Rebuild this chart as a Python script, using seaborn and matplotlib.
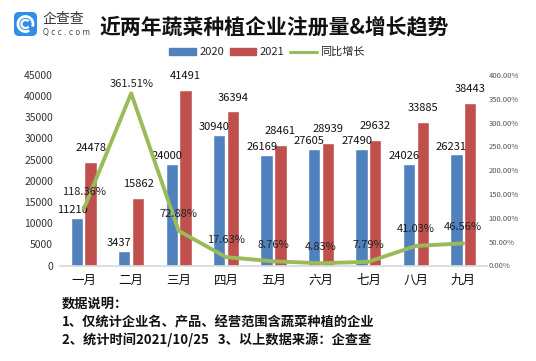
import numpy as np
import pandas as pd
import seaborn as sns
import matplotlib.pyplot as plt
from matplotlib.patches import Patch, FancyBboxPatch, Arc
from matplotlib.lines import Line2D
from matplotlib.ticker import FuncFormatter

# data
months = ["一月", "二月", "三月", "四月", "五月", "六月", "七月", "八月", "九月"]
reg_2020 = [11210, 3437, 24000, 30940, 26169, 27605, 27490, 24026, 26231]
reg_2021 = [24478, 15862, 41491, 36394, 28461, 28939, 29632, 33885, 38443]
growth = [118.36, 361.51, 72.88, 17.63, 8.76, 4.83, 7.79, 41.03, 46.56]

blue = "#4F81BD"
red = "#C0504D"
green = "#9BBB59"

sns.set_theme(style="white")
plt.rcParams["font.family"] = ["Noto Sans CJK SC", "DejaVu Sans"]

df = pd.DataFrame({
    "month": months * 2,
    "year": ["2020"] * len(months) + ["2021"] * len(months),
    "count": reg_2020 + reg_2021,
})

fig = plt.figure(figsize=(5.36, 3.61), dpi=100)
ax = fig.add_axes([60 / 536, 1 - 265.5 / 361, 427 / 536, 190.5 / 361])

sns.barplot(data=df, x="month", y="count", hue="year", hue_order=["2020", "2021"],
            palette=[blue, red], width=0.58, gap=0.1, saturation=1,
            legend=False, ax=ax)
ax.set_xlim(-0.5, len(months) - 0.5)
ax.set_ylim(0, 45000)
ax.set_yticks(np.arange(0, 45001, 5000))
ax.set_xlabel("")
ax.set_ylabel("")
for s in ["top", "left", "right"]:
    ax.spines[s].set_visible(False)
ax.spines["bottom"].set_color("#D9D9D9")
ax.tick_params(axis="x", length=0, pad=6, labelsize=9, colors="#111111")
ax.tick_params(axis="y", length=0, pad=5, labelsize=7.5, colors="#333333")

# bar value labels (2020 sits lower and a bit left, like the original)
for cont, (dx, dy) in zip(ax.containers, [(-3.5, 5.5), (0, 10)]):
    for bar in cont:
        h = bar.get_height()
        ax.annotate(f"{int(h)}", (bar.get_x() + bar.get_width() / 2, h),
                    xytext=(dx, dy), textcoords="offset points",
                    ha="center", va="center", fontsize=8, color="#111111")

# growth line on the secondary axis
ax2 = ax.twinx()
sns.lineplot(x=np.arange(len(months)), y=growth, color=green, linewidth=2.8, ax=ax2)
ax2.set_ylim(0, 400)
ax2.set_yticks(np.arange(0, 401, 50))
ax2.yaxis.set_major_formatter(FuncFormatter(lambda v, p: f"{v:.2f}%"))
for s in ["top", "left", "right", "bottom"]:
    ax2.spines[s].set_visible(False)
ax2.tick_params(axis="y", length=0, pad=1, labelsize=5.5, colors="#555555")
ax2.set_xlim(-0.5, len(months) - 0.5)

for i, g in enumerate(growth):
    dy = 6.5 if g > 300 else 12
    ax2.annotate(f"{g:.2f}%", (i, g), xytext=(0, dy), textcoords="offset points",
                 ha="center", va="center", fontsize=8, color="#222222")

# legend
handles = [Patch(color=blue, label="2020"), Patch(color=red, label="2021"),
           Line2D([], [], color=green, linewidth=2.2, label="同比增长")]
fig.legend(handles=handles, loc="center", bbox_to_anchor=(0.498, 1 - 52 / 361), ncol=3,
           frameon=False, fontsize=8, handlelength=2.4, handleheight=0.55,
           columnspacing=0.5, handletextpad=0.3)

# title
fig.text(0.511, 1 - 27 / 361, "近两年蔬菜种植企业注册量&增长趋势", ha="center", va="center",
         fontsize=15, fontweight="bold", color="#111111")

# logo
lax = fig.add_axes([14 / 536, 1 - 36 / 361, 23 / 536, 24 / 361])
lax.set_xlim(0, 23)
lax.set_ylim(0, 24)
lax.axis("off")
lax.add_patch(FancyBboxPatch((0, 0), 23, 24, boxstyle="round,pad=0,rounding_size=5",
                             facecolor="#2F8FE8", edgecolor="none"))
lax.add_patch(Arc((11.5, 12), 15, 15, theta1=-20, theta2=300, color="white", linewidth=2))
lax.add_patch(Arc((11.5, 12), 8, 8, theta1=40, theta2=320, color="white", linewidth=1.6))
fig.text(43 / 536, 1 - 19 / 361, "企查查", ha="left", va="center", fontsize=10, color="#333333")
fig.text(43 / 536, 1 - 32 / 361, "Q c c . c o m", ha="left", va="center", fontsize=5.5,
         color="#444444", family=["DejaVu Sans"])

# notes
notes = ["数据说明：",
         "1、仅统计企业名、产品、经营范围含蔬菜种植的企业",
         "2、统计时间2021/10/25   3、以上数据来源：企查查"]
for txt, y in zip(notes, [304, 322, 340]):
    fig.text(62 / 536, 1 - y / 361, txt, ha="left", va="center", fontsize=9.5,
             fontweight="bold", color="#111111")

fig.savefig("out.png", dpi=100)
